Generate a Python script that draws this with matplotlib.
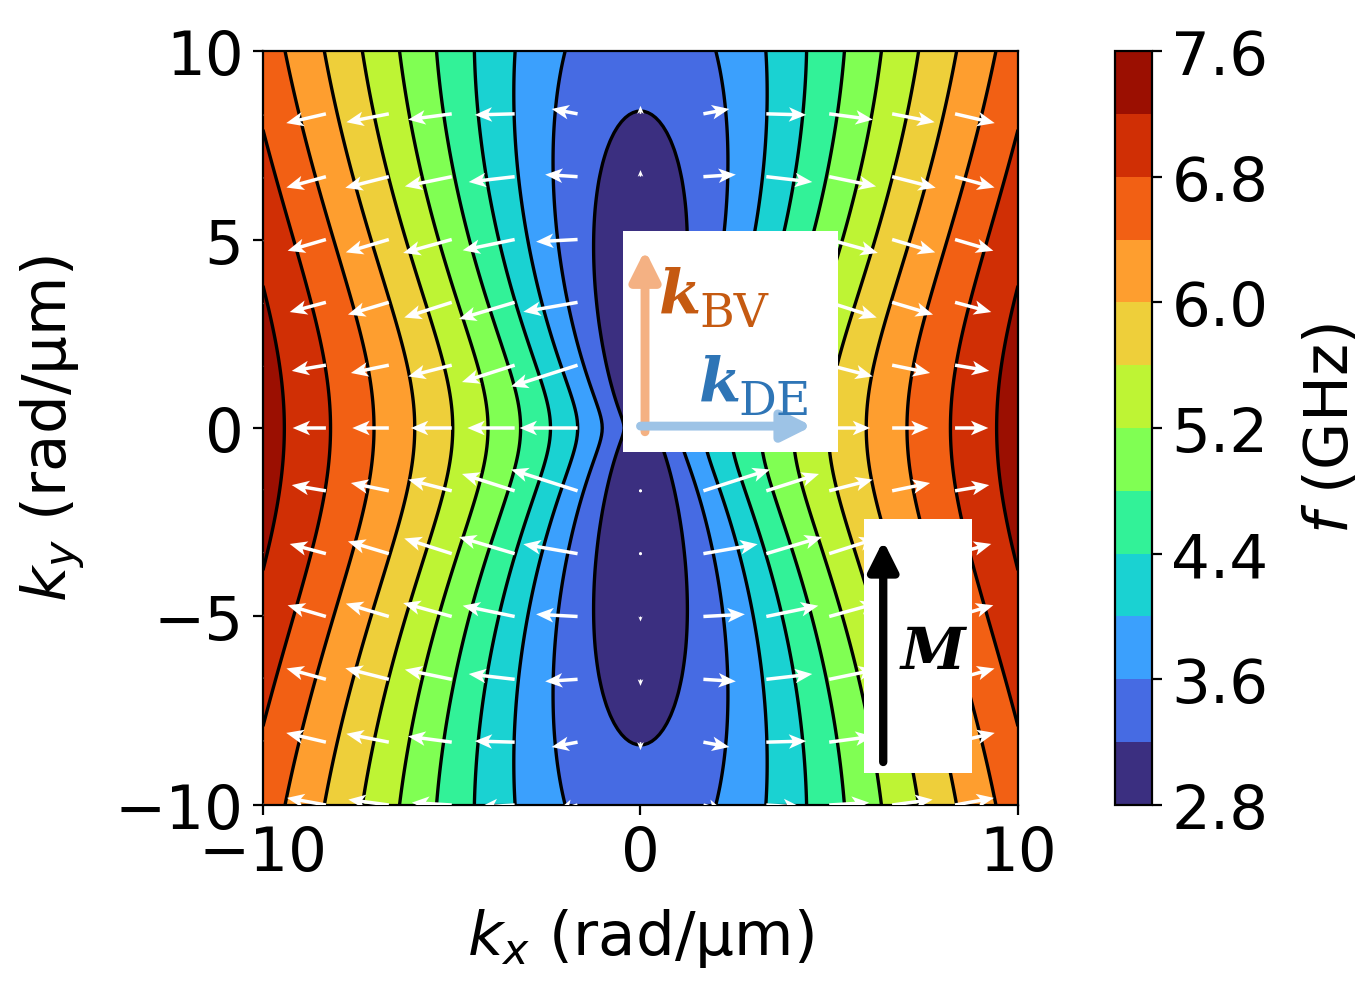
import numpy as np
import matplotlib
matplotlib.use("Agg")
import matplotlib.pyplot as plt
from matplotlib.patches import Rectangle

# thin film spin-wave dispersion, M along +y (values in GHz and um)
f_h = 0.29          # field term
f_m = 28.0          # magnetisation term
thickness = 0.012   # film thickness (um)
lam_ex = 4.5e-5     # exchange length squared (um^2)
dmi_slope = 0.0     # nonreciprocal term (GHz um/rad), not visible here

k_lim = [-10, 10]
levels = [2.8, 3.2, 3.6, 4.0, 4.4, 4.8, 5.2, 5.6, 6.0, 6.4, 6.8, 7.2, 7.6]
cbar_ticks = [2.8, 3.6, 4.4, 5.2, 6.0, 6.8, 7.6]
x_ticks = [-10, 0, 10]
y_ticks = [-10, -5, 0, 5, 10]
arrow_step = 5 / 3


def freq(kx, ky):
    k = np.hypot(kx, ky)
    kd = np.maximum(k * thickness, 1e-12)
    p = 1 - (-np.expm1(-kd)) / kd
    sin2 = kx**2 / np.maximum(k**2, 1e-18)
    cos2 = 1 - sin2
    w_ex = f_h + f_m * lam_ex * k**2
    F = 1 - p * cos2 + f_m * p * (1 - p) * sin2 / w_ex
    return np.sqrt(w_ex * (w_ex + f_m * F)) + dmi_slope * kx


kgrid = np.linspace(k_lim[0], k_lim[1], 201)
KX, KY = np.meshgrid(kgrid, kgrid)
FF = freq(KX, KY)

# group velocity arrows
qk = np.arange(k_lim[0], k_lim[1], arrow_step)
QX, QY = np.meshgrid(qk, qk)
h = 1e-3
U = (freq(QX + h, QY) - freq(QX - h, QY)) / (2 * h)
V = (freq(QX, QY + h) - freq(QX, QY - h)) / (2 * h)

fs = 22
fig = plt.figure(figsize=(13.69 / 2, 9.87 / 2), dpi=200)
ax = fig.add_axes([0.1921, 0.1834, 0.5515, 0.7639])
cax = fig.add_axes([0.8145, 0.1834, 0.027, 0.7639])

cs = ax.contourf(KX, KY, FF, levels=levels, cmap="turbo")
ax.contour(KX, KY, FF, levels=levels, colors="k", linewidths=1.2)
ax.quiver(QX, QY, U, V, color="white", angles="xy", scale_units="xy",
          scale=0.38, width=0.0046, headwidth=4.2, headlength=5,
          headaxislength=4, pivot="tail", zorder=3)

ax.set_xlim(k_lim)
ax.set_ylim(k_lim)
ax.set_xticks(x_ticks)
ax.set_yticks(y_ticks)
ax.tick_params(labelsize=fs)
ax.set_xlabel("$k_x$ (rad/μm)", fontsize=fs, labelpad=8)
ax.set_ylabel("$k_y$ (rad/μm)", fontsize=fs, labelpad=10)

cb = fig.colorbar(cs, cax=cax, ticks=cbar_ticks)
cb.ax.tick_params(labelsize=fs)
cb.set_label("$f$ (GHz)", fontsize=fs, labelpad=12)

# inset: k directions
ax.add_patch(Rectangle((-0.46, -0.64), 5.69, 5.87, facecolor="white",
                       edgecolor="none", zorder=4))
ax.annotate("", xy=(0.12, 4.72), xytext=(0.12, -0.1),
            arrowprops=dict(arrowstyle="-|>", color="#f4b183", lw=3.2,
                            mutation_scale=22, shrinkA=0, shrinkB=0), zorder=5)
ax.annotate("", xy=(4.55, 0.05), xytext=(0.0, 0.05),
            arrowprops=dict(arrowstyle="-|>", color="#9dc3e6", lw=3.2,
                            mutation_scale=22, shrinkA=0, shrinkB=0), zorder=5)
ax.text(0.5, 3.05, "k", color="#c55a11", fontsize=fs, family="DejaVu Serif",
        fontweight="bold", fontstyle="italic", zorder=6)
ax.text(1.55, 2.7, "BV", color="#c55a11", fontsize=17, family="DejaVu Serif",
        zorder=6)
ax.text(1.55, 0.73, "k", color="#2e75b6", fontsize=fs, family="DejaVu Serif",
        fontweight="bold", fontstyle="italic", zorder=6)
ax.text(2.6, 0.38, "DE", color="#2e75b6", fontsize=17, family="DejaVu Serif",
        zorder=6)

# inset: magnetisation direction
ax.add_patch(Rectangle((5.92, -9.16), 2.86, 6.74, facecolor="white",
                       edgecolor="none", zorder=4))
ax.annotate("", xy=(6.43, -2.99), xytext=(6.43, -8.86),
            arrowprops=dict(arrowstyle="-|>", color="black", lw=3.0,
                            mutation_scale=22, shrinkA=0, shrinkB=0), zorder=5)
ax.text(7.75, -5.95, "M", color="black", fontsize=21, family="DejaVu Serif",
        fontweight="bold", fontstyle="italic", ha="center", va="center",
        zorder=6)

fig.savefig("out.png", dpi=200)
